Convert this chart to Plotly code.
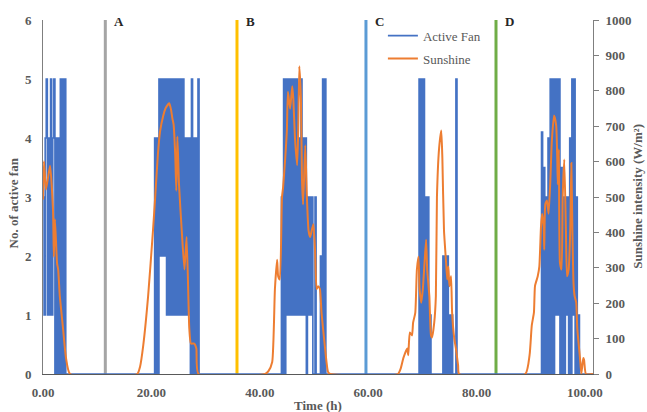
import numpy as np
import plotly.graph_objects as go

# Fan controller log: number of active fans, sampled every 0.2 h while a day's run is on
STEP_H = 0.2

fan_day1_start = 0.0
fan_day1 = [3, 1, 4, 5, 1, 4, 1, 5, 1, 4, 5, 0, 4, 0, 4, 0, 5, 0, 5, 0, 5, 0]

fan_day2_start = 20.4
fan_day2 = [0, 4, 0, 4, 0, 5, 2, 5, 2, 5, 2, 5, 1, 5, 1, 5, 1, 5, 1, 5, 1, 5,
            1, 5, 1, 5, 1, 5, 1, 4, 1, 4, 1, 4, 0, 5, 0, 4, 0, 4, 0, 5, 0]

fan_day3_start = 43.8
fan_day3 = [0, 3, 0, 5, 0, 5, 1, 5, 1, 5, 1, 5, 1, 5, 1, 5, 1, 4, 1, 5, 1, 4,
            1, 4, 0, 3, 1, 3, 1, 3, 0, 0, 3, 0, 0, 0, 0, 2, 0, 5, 0, 5, 0]

fan_day4_start = 69.2
fan_day4 = [0, 5, 0, 5, 0, 5, 0, 3, 0, 3, 0, 1, 0, 0, 0, 0, 0, 0, 0, 0, 0, 0,
            0, 2, 0, 2, 0, 2, 0, 1, 0, 1, 0, 0, 0, 5, 0]

fan_day5_start = 91.8
fan_day5 = [0, 4.1, 0, 3.5, 0, 3, 0, 4, 0, 5, 0, 5, 0, 5, 1, 5, 1, 5, 0, 3.5, 0,
            3, 0, 3, 1, 3, 0, 4, 0, 5, 1, 5, 0, 3, 0, 1, 0]

fan_end_time = 101.5

# Sunshine intensity (W/m2)
sun_t = [0.0, 0.18, 0.55, 1.3, 1.85, 2.0, 2.2, 2.6, 2.8, 3.1, 3.7, 4.25, 5.0,
         17.4, 17.9, 18.5, 19.4, 20.3, 20.7, 21.2, 21.6, 22.2, 22.6, 23.1, 23.3, 23.6,
         23.9, 24.1, 24.4, 24.6, 24.8, 25.1, 25.6, 26.1, 26.5, 27.0, 27.3, 27.9, 28.3, 28.7,
         41.0, 41.6, 42.3, 42.8, 43.2, 43.4, 43.7, 44.1, 44.3, 44.7, 45.0, 45.2, 45.6,
         46.0, 46.2, 46.5, 46.9, 47.1, 47.3, 47.6, 47.8, 48.0, 48.4, 48.7, 49.0, 49.3,
         49.6, 49.9, 50.2, 50.5, 50.8, 51.1, 51.4, 52.0, 52.6, 53.0,
         65.5, 66.0, 66.5, 67.2, 67.4, 67.7, 68.1, 68.3, 68.7, 69.0, 69.3, 69.5, 69.8,
         70.1, 70.4, 70.7, 70.9, 71.3, 71.6, 71.8, 72.2, 72.5, 72.7, 73.1, 73.5, 73.7,
         74.0, 74.4, 74.6, 74.8, 75.0, 75.3, 75.5, 75.9, 76.2, 76.6, 76.8,
         89.0, 89.8, 90.2, 90.6, 90.8, 91.3, 91.6, 91.9, 92.1, 92.4, 92.5, 92.7, 93.0,
         93.3, 93.6, 93.9, 94.3, 94.7, 94.9, 95.0, 95.2, 95.4, 95.7, 95.9, 96.2, 96.5,
         96.7, 97.0, 97.3, 97.5, 97.7, 97.9, 98.1, 98.4, 98.6, 99.1, 99.35, 99.7, 99.85,
         100.2, 101.5]
sun_w = [493, 601, 521, 588, 462, 331, 437, 312, 295, 220, 128, 45, 0,
         0, 20, 81, 220, 406, 499, 620, 685, 730, 750, 762, 765, 749,
         720, 705, 618, 518, 671, 535, 406, 295, 387, 128, 86, 86, 72, 0,
         0, 8, 34, 240, 323, 276, 267, 499, 526, 610, 685, 797, 749,
         813, 777, 666, 590, 685, 869, 777, 546, 479, 646, 499, 406, 387,
         406, 423, 351, 240, 248, 240, 173, 81, 6, 0,
         0, 15, 45, 72, 53, 117, 109, 145, 173, 295, 331, 240, 201,
         240, 312, 379, 295, 220, 109, 103, 145, 220, 499, 638, 688, 610,
         406, 312, 267, 304, 248, 276, 173, 100, 72, 25, 0,
         0, 54, 137, 174, 249, 276, 304, 416, 453, 416, 351, 480, 490,
         453, 536, 657, 730, 703, 610, 536, 634, 314, 295, 499, 606, 406,
         276, 295, 406, 596, 406, 258, 221, 202, 128, 45, 0, 45, 40,
         0, 0]

# Event markers
event_times = [11.5, 35.8, 59.6, 83.6]
event_labels = ["A", "B", "C", "D"]
event_colors = ["#A5A5A5", "#FFC000", "#5B9BD5", "#70AD47"]

x_ticks = [0, 20, 40, 60, 80, 100]

# Assemble the fan series (zero between runs)
fan_t, fan_v = [], []
for start, vals in [(fan_day1_start, fan_day1), (fan_day2_start, fan_day2),
                    (fan_day3_start, fan_day3), (fan_day4_start, fan_day4),
                    (fan_day5_start, fan_day5)]:
    ts = start + STEP_H * np.arange(len(vals))
    fan_t.extend(ts.tolist())
    fan_v.extend(vals)
fan_t.append(fan_end_time)
fan_v.append(0)

SERIF = "Liberation Serif, Times New Roman, serif"
GREY = "#595959"
AXIS = "#7F7F7F"

fig = go.Figure()
fig.add_trace(go.Scatter(
    x=fan_t, y=fan_v, mode="lines", name="Active Fan", legendgroup="fan",
    line=dict(color="#4472C4", width=1.6, shape="hv")))
fig.add_trace(go.Scatter(
    x=sun_t, y=sun_w, mode="lines", name="Sunshine", legendgroup="sun", yaxis="y2",
    line=dict(color="#ED7D31", width=2, shape="spline", smoothing=0.5)))

for t, lab, col in zip(event_times, event_labels, event_colors):
    fig.add_shape(type="line", xref="x", yref="y", x0=t, x1=t, y0=0, y1=6,
                  line=dict(color=col, width=3), layer="below")
    fig.add_annotation(x=t, y=6, xref="x", yref="y", text=lab, showarrow=False,
                       xanchor="left", yanchor="middle", xshift=7, yshift=-1,
                       font=dict(family=SERIF, size=13, color="#262626", weight="bold"))

tick_font = dict(family=SERIF, size=13, color=GREY, weight="bold")
title_font = dict(family=SERIF, size=13, color=GREY, weight="bold")

fig.add_annotation(text="Time (h)", xref="paper", yref="paper", x=0.5, y=-0.088,
                   showarrow=False, xanchor="center", yanchor="middle", font=title_font)
fig.add_annotation(text="No. of active fan", xref="paper", yref="paper", x=-0.0545, y=0.482,
                   showarrow=False, textangle=-90, xanchor="center", yanchor="middle",
                   font=title_font)
fig.add_annotation(text="Sunshine intensity (W/m²)", xref="paper", yref="paper", x=1.082,
                   y=0.501, showarrow=False, textangle=-90, xanchor="center",
                   yanchor="middle", font=title_font)

fig.update_layout(
    width=647, height=412,
    margin=dict(l=43, r=54, t=20, b=33),
    paper_bgcolor="white", plot_bgcolor="white",
    showlegend=True,
    legend=dict(x=0.618, y=0.998, xanchor="left", yanchor="top",
                bgcolor="rgba(0,0,0,0)", tracegroupgap=3,
                font=dict(family=SERIF, size=13, color=GREY)),
    xaxis=dict(range=[0, 101.5], tickvals=x_ticks, tickformat=".2f",
               showline=True, linecolor=GREY, linewidth=1, ticks="",
               showgrid=False, zeroline=False, tickfont=tick_font,
               ticklabelstandoff=6),
    yaxis=dict(range=[0, 6], dtick=1, showline=True, linecolor=AXIS, linewidth=1,
               ticks="", showgrid=False, zeroline=False, tickfont=tick_font,
               ticklabelstandoff=8),
    yaxis2=dict(range=[0, 1000], dtick=100, overlaying="y", side="right",
                showline=True, linecolor=AXIS, linewidth=1, ticks="outside",
                ticklen=5, tickcolor=AXIS, showgrid=False, zeroline=False,
                tickfont=tick_font, ticklabelstandoff=4),
)

fig.write_html("out.html")
